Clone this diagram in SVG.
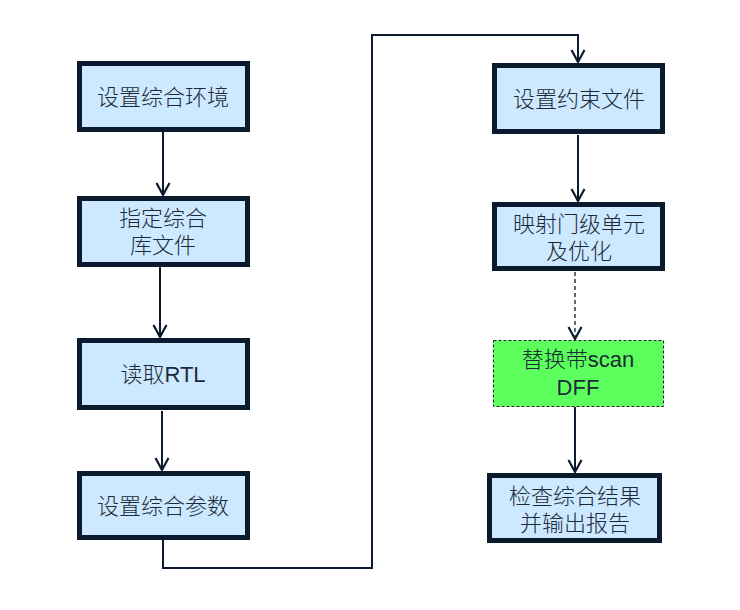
<svg xmlns="http://www.w3.org/2000/svg" width="740" height="610" viewBox="0 0 740 610">
<defs>
<marker id="arr" markerUnits="userSpaceOnUse" markerWidth="16" markerHeight="16" viewBox="0 0 16 16" refX="14" refY="8" orient="auto">
<path d="M2,1.5 L14,8 L2,14.5" fill="none" stroke="#0b1a2c" stroke-width="2.2"/>
</marker>
</defs>
<style>
.box{fill:#cce9ff;stroke:#0b1a2c;stroke-width:5}
.gbox{fill:#5cff5c;stroke:#1a2a1a;stroke-width:1;stroke-dasharray:3,2}
.t{font-family:"Liberation Sans","Noto Sans CJK SC",sans-serif;font-size:22px;font-weight:300;fill:#1c2a38;text-anchor:middle;dominant-baseline:central}
.c{fill:none;stroke:#0b1a2c;stroke-width:2}
.d{fill:none;stroke:#0b1a2c;stroke-width:1.3;stroke-dasharray:4,3}
</style>
<rect width="740" height="610" fill="#ffffff"/>
<g id="connectors">
<line class="c" x1="163" y1="132" x2="163" y2="195" marker-end="url(#arr)"/>
<line class="c" x1="160" y1="267" x2="160" y2="337" marker-end="url(#arr)"/>
<line class="c" x1="162" y1="411" x2="162" y2="470" marker-end="url(#arr)"/>
<polyline class="c" points="163,540 163,568 372,568 372,35 578,35 578,62" marker-end="url(#arr)"/>
<line class="c" x1="578" y1="135" x2="578" y2="201" marker-end="url(#arr)"/>
<line class="d" x1="575" y1="272" x2="575" y2="339" marker-end="url(#arr)"/>
<line class="c" x1="575" y1="407" x2="575" y2="472" marker-end="url(#arr)"/>
</g>
<g id="n1"><rect class="box" x="79.5" y="63.5" width="168" height="66"/><text class="t" x="163" y="97">设置综合环境</text></g>
<g id="n2"><rect class="box" x="79.5" y="198.5" width="168" height="66"/><text class="t" x="163" y="218">指定综合<tspan x="163" dy="27">库文件</tspan></text></g>
<g id="n3"><rect class="box" x="79.5" y="340.5" width="168" height="67"/><text class="t" x="163" y="374">读取RTL</text></g>
<g id="n4"><rect class="box" x="79.5" y="473.5" width="168" height="64"/><text class="t" x="163" y="506">设置综合参数</text></g>
<g id="n5"><rect class="box" x="494.5" y="65.5" width="168" height="66"/><text class="t" x="579" y="99">设置约束文件</text></g>
<g id="n6"><rect class="box" x="494.5" y="204.5" width="168" height="64"/><text class="t" x="579" y="224">映射门级单元<tspan x="579" dy="27">及优化</tspan></text></g>
<g id="n7"><rect class="gbox" x="493.5" y="340.5" width="170" height="66"/><text class="t" x="578" y="359">替换带scan<tspan x="578" dy="28">DFF</tspan></text></g>
<g id="n8"><rect class="box" x="489.5" y="475.5" width="170" height="65"/><text class="t" x="575" y="496">检查综合结果<tspan x="575" dy="27">并输出报告</tspan></text></g>
</svg>
